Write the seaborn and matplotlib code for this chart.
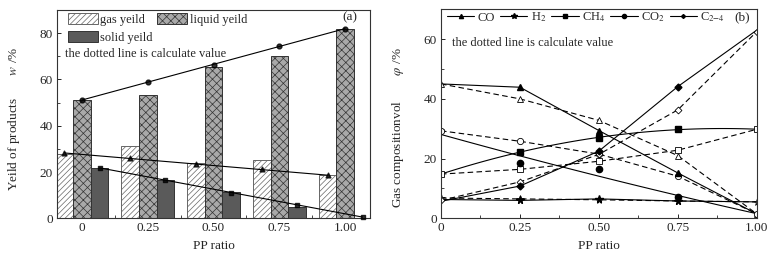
import numpy as np
import pandas as pd
import seaborn as sns
import matplotlib.pyplot as plt
from matplotlib.lines import Line2D
from matplotlib.ticker import MultipleLocator

sns.set_style("ticks")
plt.rcParams["font.family"] = ["Liberation Serif", "DejaVu Serif"]
plt.rcParams["mathtext.fontset"] = "stix"
plt.rcParams["hatch.linewidth"] = 0.5
plt.rcParams["xtick.direction"] = "in"
plt.rcParams["ytick.direction"] = "in"

# (a) yields, one bar group per PP ratio
ratio_labels = ["0", "0.25", "0.50", "0.75", "1.00"]
gas_yield = [27.9, 31.1, 23.7, 25.4, 18.5]
liquid_yield = [51.2, 53.3, 65.5, 70.2, 81.7]
solid_yield = [21.8, 16.5, 11.5, 5.0, 0.0]
# calculated values (markers + fitted line)
gas_calc = [28.2, 25.9, 23.4, 21.1, 18.6]
liquid_calc = [51.2, 58.8, 66.4, 74.3, 82.0]
solid_calc = [21.9, 16.5, 11.0, 5.7, 0.7]

# (b) gas composition
pp_ratio = [0, 0.25, 0.5, 0.75, 1.0]
co_exp = [45.0, 43.9, 29.4, 15.2, 1.5]
h2_exp = [6.3, 6.0, 6.5, 5.8, 5.5]
ch4_exp = [14.8, 22.2, 27.0, 29.8, 29.8]
co2_exp = [28.9, 18.5, 16.4, 7.0, 1.5]
c24_exp = [5.7, 10.8, 22.5, 44.1, 63.0]
co_calc = [45.0, 40.0, 32.8, 21.0, 1.5]
h2_calc = [6.8, 6.5, 6.2, 5.8, 5.5]
ch4_calc = [14.8, 16.4, 19.1, 22.8, 29.8]
co2_calc = [29.3, 25.8, 21.5, 14.1, 1.5]
c24_calc = [6.0, 12.2, 21.4, 36.3, 62.5]

fig = plt.figure(figsize=(7.76, 2.61), dpi=100)
ax1 = fig.add_axes([0.0735, 0.1636, 0.4034, 0.798])
ax2 = fig.add_axes([0.5683, 0.1636, 0.4068, 0.8008])

# ---------- (a) ----------
yields = pd.DataFrame({
    "ratio": ratio_labels * 3,
    "kind": ["gas yeild"] * 5 + ["liquid yeild"] * 5 + ["solid yeild"] * 5,
    "value": gas_yield + liquid_yield + solid_yield,
})
sns.barplot(data=yields, x="ratio", y="value", hue="kind", ax=ax1,
            width=0.8, legend=False)

bar_style = [
    dict(facecolor="white", edgecolor="#666666", hatch="//////"),
    dict(facecolor="#a9a9a9", edgecolor="#333333", hatch="xxxx"),
    dict(facecolor="#5a5a5a", edgecolor="#333333", hatch=""),
]
for cont, st in zip(ax1.containers, bar_style):
    for p in cont.patches:
        p.set_facecolor(st["facecolor"])
        p.set_edgecolor(st["edgecolor"])
        p.set_hatch(st["hatch"])
        p.set_linewidth(0.7)

ax1.set_xlim(-0.38, 4.38)
ax1.set_ylim(0, 90)

pos = np.arange(len(ratio_labels))
offset = 0.8 / 3
for xs, ys, mk in [(pos - offset, gas_calc, "^"),
                   (pos, liquid_calc, "o"),
                   (pos + offset, solid_calc, "s")]:
    sns.regplot(x=xs, y=ys, ax=ax1, ci=None, marker=mk, color="black",
                scatter_kws=dict(s=12, zorder=5, clip_on=False),
                line_kws=dict(lw=0.8))

ax1.legend([ax1.containers[0], ax1.containers[2], ax1.containers[1]],
           ["gas yeild", "solid yeild", "liquid yeild"],
           ncol=2, loc="upper left", bbox_to_anchor=(0.01, 1.02),
           frameon=False, fontsize=9, handlelength=2.4,
           handleheight=0.9, handletextpad=0.2, columnspacing=0.35,
           labelspacing=0.45, borderaxespad=0.2)
ax1.text(0.026, 0.79, "the dotted line is calculate value",
         transform=ax1.transAxes, fontsize=9, va="center")
ax1.text(0.936, 0.963, "(a)", transform=ax1.transAxes, fontsize=9.5,
         ha="center", va="center")

ax1.set_xticks(pos)
ax1.set_xticklabels(ratio_labels)
ax1.xaxis.set_minor_locator(MultipleLocator(0.5))
ax1.yaxis.set_major_locator(MultipleLocator(20))
ax1.yaxis.set_minor_locator(MultipleLocator(10))
ax1.set_xlabel("PP ratio", fontsize=9.5, labelpad=4)
ax1.set_ylabel("Yeild of products       $w$ /%", fontsize=9.5)
ax1.yaxis.set_label_coords(-0.112, 0.477)

# ---------- (b) ----------
series = [
    ("CO", "^", co_exp, co_calc, 1),
    ("H$_2$", "*", h2_exp, h2_calc, 1),
    ("CH$_4$", "s", ch4_exp, ch4_calc, 2),
    ("CO$_2$", "o", co2_exp, co2_calc, 2),
    ("C$_{2\\mathrm{-}4}$", "D", c24_exp, c24_calc, 1),
]
msize = {"^": 4.5, "*": 5.5, "s": 4, "o": 4.5, "D": 3.5}
handles = []
for name, mk, exp, calc, order in series:
    if order == 2:
        sns.regplot(x=pp_ratio, y=exp, ax=ax2, order=2, ci=None, scatter=False,
                    color="black", line_kws=dict(lw=0.8))
    else:
        sns.lineplot(x=pp_ratio, y=exp, ax=ax2, color="black", lw=0.8)
    sns.lineplot(x=pp_ratio, y=calc, ax=ax2, color="black", lw=0.8,
                 linestyle=(0, (5, 3)), marker=mk, markersize=msize[mk],
                 markerfacecolor="white", markeredgecolor="black",
                 markeredgewidth=0.6)
    ax2.plot(pp_ratio[1:4], exp[1:4], linestyle="none", marker=mk,
             markersize=msize[mk], color="black", zorder=5)
    handles.append(Line2D([], [], color="black", lw=0.8, marker=mk,
                          markersize=msize[mk] - 1.5))

ax2.set_xlim(0, 1)
ax2.set_ylim(0, 70)
ax2.legend(handles, [s[0] for s in series], ncol=5, loc="upper left",
           bbox_to_anchor=(-0.005, 1.03), frameon=False, fontsize=9,
           handlelength=2.2, handletextpad=0.25, columnspacing=0.4,
           borderaxespad=0.2)
ax2.text(0.93, 0.963, "(b)", transform=ax2.transAxes, fontsize=9.5,
         va="center")
ax2.text(0.035, 0.839, "the dotted line is calculate value",
         transform=ax2.transAxes, fontsize=9, va="center")
ax2.set_xticks(pp_ratio)
ax2.set_xticklabels(["0", "0.25", "0.50", "0.75", "1.00"])
ax2.xaxis.set_minor_locator(MultipleLocator(0.125))
ax2.yaxis.set_major_locator(MultipleLocator(20))
ax2.yaxis.set_minor_locator(MultipleLocator(10))
ax2.set_xlabel("PP ratio", fontsize=9.5, labelpad=4)
ax2.set_ylabel("Gas compositionvol        $\\varphi$ /%", fontsize=9.5)
ax2.yaxis.set_label_coords(-0.11, 0.432)

for ax in (ax1, ax2):
    for sp in ax.spines.values():
        sp.set_visible(True)
        sp.set_linewidth(0.8)
        sp.set_color("#333333")
    ax.tick_params(which="major", length=3, width=0.7, labelsize=9.5, pad=3)
    ax.tick_params(which="minor", length=2, width=0.6)

fig.savefig("out.png", dpi=100)
